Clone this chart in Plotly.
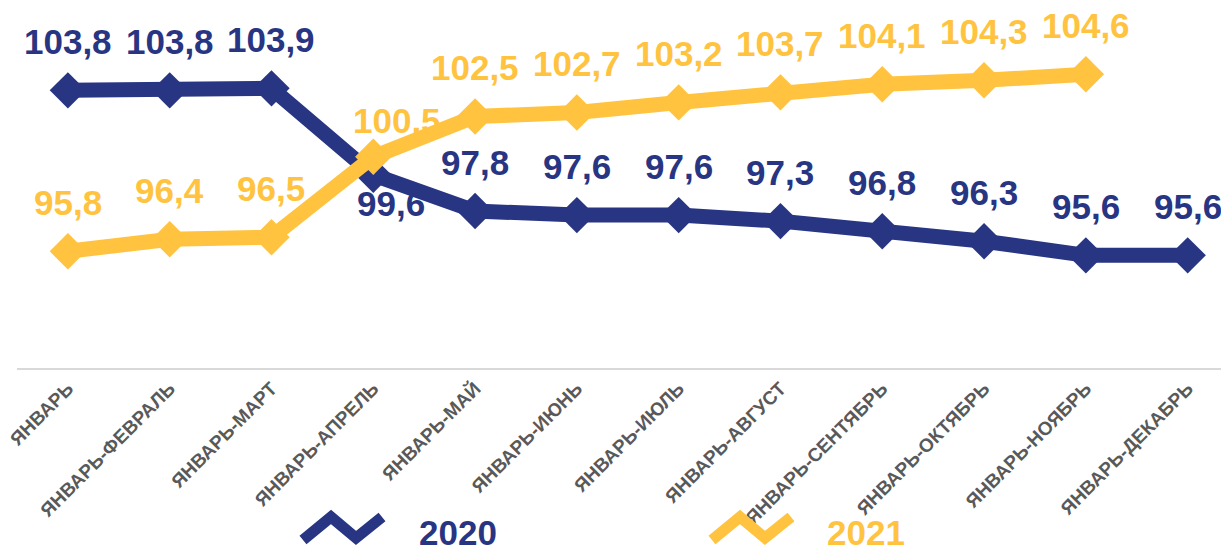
import plotly.graph_objects as go

# periods (cumulative since January)
months = ["ЯНВАРЬ", "ЯНВАРЬ-ФЕВРАЛЬ", "ЯНВАРЬ-МАРТ", "ЯНВАРЬ-АПРЕЛЬ", "ЯНВАРЬ-МАЙ",
          "ЯНВАРЬ-ИЮНЬ", "ЯНВАРЬ-ИЮЛЬ", "ЯНВАРЬ-АВГУСТ", "ЯНВАРЬ-СЕНТЯБРЬ",
          "ЯНВАРЬ-ОКТЯБРЬ", "ЯНВАРЬ-НОЯБРЬ", "ЯНВАРЬ-ДЕКАБРЬ"]
vals_2020 = [103.8, 103.8, 103.9, 99.6, 97.8, 97.6, 97.6, 97.3, 96.8, 96.3, 95.6, 95.6]
vals_2021 = [95.8, 96.4, 96.5, 100.5, 102.5, 102.7, 103.2, 103.7, 104.1, 104.3, 104.6]

BLUE = "#283583"
GOLD = "#FFC33F"
FONT = "Liberation Sans, Arial, sans-serif"

# label tweaks (px): default above the point, a couple moved to avoid the crossing
label_shift = {("2020", 3): (18, -29), ("2021", 3): (24, 36)}

# the page body has an 8px margin, so the figure is drawn 8px smaller
OFF = 8
FW, FH = 1229 - OFF, 549 - OFF
# plot area in figure pixels
L, T, W, H = 17 - OFF, 0, 1212, 360

fig = go.Figure()
for name, vals, col in [("2020", vals_2020, BLUE), ("2021", vals_2021, GOLD)]:
    xs = list(range(len(vals)))
    fig.add_trace(go.Scatter(x=xs, y=vals, name=name, mode="lines+markers",
                             line=dict(color=col, width=15),
                             marker=dict(symbol="diamond", size=28, color=col)))
    for i, v in enumerate(vals):
        dx, dy = label_shift.get((name, i), (0, 49))
        fig.add_annotation(x=i, y=v, text=f"{v:.1f}".replace(".", ","),
                           showarrow=False, xshift=dx, yshift=dy,
                           font=dict(family=FONT, size=35, color=col, weight="bold"))


def px2paper(px, py):
    # px, py are picture pixels; convert to paper fractions
    return (px - OFF - L) / W, (H + T - (py - OFF)) / H


# legend: zigzag icon + year text
legend_items = [("2020", BLUE, 303, 417), ("2021", GOLD, 712, 825)]
for name, col, x0, xt in legend_items:
    pts = [(x0, 540), (x0 + 28, 517), (x0 + 53, 538), (x0 + 79, 517)]
    pp = [px2paper(a, b) for a, b in pts]
    path = "M " + " L ".join(f"{a:.5f},{b:.5f}" for a, b in pp)
    fig.add_shape(type="path", path=path, xref="paper", yref="paper",
                  line=dict(color=col, width=11), layer="above")
    tx, ty = px2paper(xt, 532)
    fig.add_annotation(x=tx, y=ty, xref="paper", yref="paper", text=f"<b>{name}</b>",
                       showarrow=False, xanchor="left", yanchor="middle",
                       font=dict(family=FONT, size=35, color=col))

fig.update_layout(
    width=FW, height=FH,
    margin=dict(l=L, r=0, t=T, b=FH - H - T),
    paper_bgcolor="white", plot_bgcolor="white",
    showlegend=False,
    xaxis=dict(tickmode="array", tickvals=list(range(len(months))), ticktext=months,
               range=[-0.5, 11.406], tickangle=-45, showgrid=False, zeroline=False,
               showline=True, linecolor="#D9D9D9", linewidth=2, ticks="",
               automargin=False, ticklabeloverflow="allow",
               tickfont=dict(family=FONT, size=19, color="#595959", weight="bold")),
    yaxis=dict(range=[90, 90 + H / 20.12], visible=False),
)

fig.write_html("out.html")
